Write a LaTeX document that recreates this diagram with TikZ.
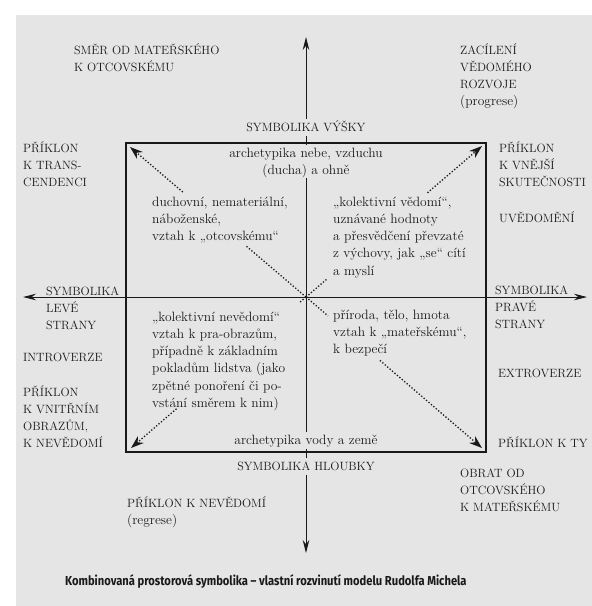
\documentclass[tikz,border=0pt]{standalone}
\usepackage{fontspec}
\newfontfamily\popisfont{Fira Sans}
\usetikzlibrary{calc,arrows.meta}

\definecolor{papir}{RGB}{229,229,229}
\definecolor{inkoust}{RGB}{25,25,25}

\newcommand{\malapismena}{\fontsize{13.5}{17.2}\selectfont}
\newcommand{\velkapismena}{\fontsize{12}{17.2}\selectfont}

\tikzset{
  txt/.style={inner sep=0pt, anchor=north west, align=left, text=inkoust, font=\malapismena},
  vtxt/.style={txt, font=\velkapismena},
  stxt/.style={txt, anchor=north, align=center, fill=papir, inner xsep=1.5pt},
  osa/.style={line width=0.9pt, draw=inkoust, {Stealth[length=13pt,width=6.5pt]}-{Stealth[length=13pt,width=6.5pt]}},
  tecky/.style={line width=1.3pt, draw=inkoust, dash pattern=on 1.3pt off 1.9pt},
  sipka/.style={tecky, -{Stealth[length=13pt,width=9pt]}},
}

\begin{document}
\begin{tikzpicture}[x=1pt,y=-1pt]
			%%%%% START %%%%%
			
			\fill[white] (0,0) rectangle (592,606);
			\fill[papir] (16,15) rectangle (592,606);
			\useasboundingbox (0,0) rectangle (592,606);
			
			\coordinate (stred) at (306,297);
			\coordinate (horni) at (306,37);
			\coordinate (dolni) at (306,553);
			\coordinate (leva) at (23,297);
			\coordinate (prava) at (587,297);
			
			\draw[osa] (dolni) -- (horni);
			\draw[osa] (leva) -- (prava);
			
			\draw[line width=1.1pt, draw=inkoust] (126,143) rectangle (486,452);
			
			\coordinate (hlroh) at (130,147);
			\coordinate (hproh) at (482,146);
			\coordinate (dlroh) at (131,448);
			\coordinate (dproh) at (482,448);
			
			\draw[tecky] (stred) -- ($(stred)!0.34!(hlroh)$);
			\draw[sipka] ($(stred)!0.70!(hlroh)$) -- (hlroh);
			\draw[tecky] (stred) -- ($(stred)!0.12!(hproh)$);
			\draw[sipka] ($(stred)!0.69!(hproh)$) -- (hproh);
			\draw[tecky] (stred) -- ($(stred)!0.04!(dlroh)$);
			\draw[sipka] ($(stred)!0.74!(dlroh)$) -- (dlroh);
			\draw[tecky] (stred) -- ($(stred)!0.125!(dproh)$);
			\draw[sipka] ($(stred)!0.42!(dproh)$) -- (dproh);
			
			\node[vtxt] (smer) at (74,42) {\strut SMĚR OD MATEŘSKÉHO\\K OTCOVSKÉMU};
			\node[vtxt] (zacileni) at (460,42) {\strut ZACÍLENÍ\\VĚDOMÉHO\\ROZVOJE\\{\malapismena(progrese)}};
			\node[stxt, font=\velkapismena] (vyska) at (306,119) {\strut SYMBOLIKA VÝŠKY};
			
			\node[vtxt] (transcend) at (23,140) {\strut PŘÍKLON\\K TRANS-\\CENDENCI};
			\node[vtxt] (vnejsi) at (499,140) {\strut PŘÍKLON\\K VNĚJŠÍ\\SKUTEČNOSTI};
			\node[vtxt] (uvedomeni) at (499,210) {\strut UVĚDOMĚNÍ};
			
			\node[stxt] (nebe) at (306,145) {\strut archetypika nebe, vzduchu\\(ducha) a ohně};
			\node[txt] (duchovni) at (152,194) {\strut duchovní, nemateriální,\\náboženské,\\vztah k „otcovskému“};
			\node[txt] (vedomi) at (333,194) {\strut „kolektivní vědomí“,\\uznávané hodnoty\\a přesvědčení převzaté\\z výchovy, jak „se“ cítí\\a myslí};
			
			\node[vtxt] (leve) at (46,283) {\strut SYMBOLIKA\\LEVÉ\\STRANY};
			\node[vtxt] (prave) at (495,282) {\strut SYMBOLIKA\\PRAVÉ\\STRANY};
			\node[vtxt] (introverze) at (23,349) {\strut INTROVERZE};
			\node[vtxt] (extroverze) at (498,365) {\strut EXTROVERZE};
			\node[vtxt] (vnitrni) at (23,384) {\strut PŘÍKLON\\K VNITŘNÍM\\OBRAZŮM,\\K NEVĚDOMÍ};
			
			\node[txt] (nevedomi) at (152,309) {\strut „kolektivní nevědomí“\\vztah k pra-obrazům,\\případně k základním\\pokladům lidstva (jako\\zpětné ponoření či po-\\vstání směrem k nim)};
			\node[txt] (priroda) at (333,307) {\strut příroda, tělo, hmota\\vztah k „mateřskému“,\\k bezpečí};
			\node[stxt] (voda) at (306,432) {\strut archetypika vody a země};
			\node[vtxt] (ty) at (498,435) {\strut PŘÍKLON K TY};
			
			\node[stxt, font=\velkapismena] (hloubka) at (306,458) {\strut SYMBOLIKA HLOUBKY};
			\node[vtxt] (obrat) at (460,465) {\strut OBRAT OD\\OTCOVSKÉHO\\K MATEŘSKÉMU};
			\node[vtxt] (regrese) at (127,495) {\strut PŘÍKLON K NEVĚDOMÍ\\{\malapismena(regrese)}};
			
			\node[anchor=west, inner sep=0pt, text=inkoust] (popisek) at (65,582) {\scalebox{0.86}[1]{\popisfont\bfseries\fontsize{13}{15}\selectfont Kombinovaná prostorová symbolika – vlastní rozvinutí modelu Rudolfa Michela}};
			
			%%%%% END %%%%%
\end{tikzpicture}
\end{document}
